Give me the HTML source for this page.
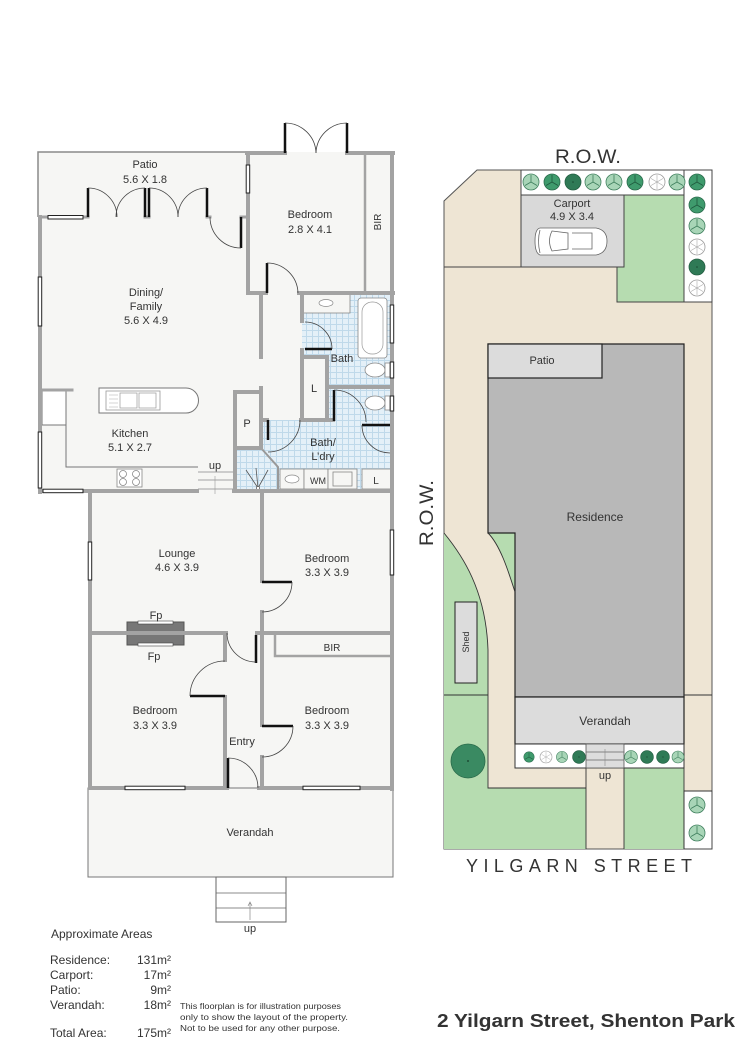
<!DOCTYPE html>
<html><head><meta charset="utf-8"><style>
html,body{margin:0;padding:0;background:#fff;}
svg{display:block;}
text{font-family:"Liberation Sans",sans-serif;fill:#333;}
</style></head><body>
<svg width="750" height="1059" viewBox="0 0 750 1059" xmlns="http://www.w3.org/2000/svg">
<defs>
<pattern id="tile" width="6" height="6" patternUnits="userSpaceOnUse">
<rect width="6" height="6" fill="#e4f0f8"/>
<path d="M0,0.5H6M0.5,0V6" stroke="#bfd9ea" stroke-width="1"/>
</pattern>
<g id="tL"><circle r="8" fill="#a8d5b7" stroke="#3f7f5d" stroke-width="0.8"/><path d="M0,0V-7M0,0L6,3.5M0,0L-6,3.5" stroke="#3f7f5d" stroke-width="0.8"/></g>
<g id="tM"><circle r="8" fill="#3f9b6d" stroke="#2a6b4c" stroke-width="0.8"/><path d="M0,0V-7M0,0L6,3.5M0,0L-6,3.5" stroke="#1f5a3e" stroke-width="0.8"/></g>
<g id="tD"><circle r="8" fill="#2f7a56" stroke="#245f43" stroke-width="0.8"/><circle r="0.8" fill="#1a4a33"/></g>
<g id="tW"><circle r="8" fill="#fff" stroke="#9a9a9a" stroke-width="0.8"/><path d="M0,0V-7M0,0L6,3.5M0,0L-6,3.5M0,0L6,-3.5M0,0L-6,-3.5M0,0V7" stroke="#aaa" stroke-width="0.6"/></g>
</defs>
<rect width="750" height="1059" fill="#fff"/>

<!-- ================= FLOOR PLAN ================= -->
<g fill="#f6f6f4">
<rect x="38" y="152" width="210" height="341"/>
<rect x="247" y="152" width="146" height="341"/>
<rect x="88" y="491" width="305" height="386"/>
</g>
<!-- tiles -->
<g fill="url(#tile)">
<rect x="302" y="293" width="91" height="64"/>
<rect x="327" y="357" width="66" height="63"/>
<rect x="262" y="420" width="131" height="69"/>
<rect x="235" y="448" width="27" height="41"/>
</g>
<!-- patio outline -->
<polyline points="38,217 38,152 247,152" fill="none" stroke="#8a8a8a" stroke-width="1.5"/>

<!-- kitchen fixtures -->
<rect x="42" y="390" width="24" height="35" fill="#fff" stroke="#777" stroke-width="1"/>
<polyline points="66,390 66,467 198,467" fill="none" stroke="#777" stroke-width="1"/>
<rect x="117" y="469" width="25" height="18" fill="#fff" stroke="#888" stroke-width="0.8"/>
<g fill="none" stroke="#888" stroke-width="0.8"><circle cx="123" cy="474" r="3.5"/><circle cx="136" cy="474" r="3.5"/><circle cx="123" cy="482" r="3.5"/><circle cx="136" cy="482" r="3.5"/></g>
<path d="M99,388 H186 A12.5,12.5 0 0 1 186,413 H99 Z" fill="#fff" stroke="#777" stroke-width="1"/>
<rect x="106" y="391" width="54" height="19" fill="#fff" stroke="#999" stroke-width="0.8"/>
<rect x="120" y="393" width="17" height="15" fill="#fff" stroke="#999" stroke-width="0.7"/>
<rect x="139" y="393" width="17" height="15" fill="#fff" stroke="#999" stroke-width="0.7"/>
<path d="M109,395H118M109,399H118M109,403H118M109,407H118" stroke="#aaa" stroke-width="0.6"/>
<!-- steps up kitchen -->
<path d="M198,472H233M198,480H233M198,489H233" stroke="#888" stroke-width="0.8"/>
<path d="M215,494V476" stroke="#999" stroke-width="0.6"/>

<!-- bath fixtures -->
<rect x="302" y="293" width="48" height="20" fill="#f6f6f4" stroke="#888" stroke-width="0.8"/>
<ellipse cx="326" cy="303" rx="7" ry="3.5" fill="#fff" stroke="#888" stroke-width="0.7"/>
<rect x="358" y="298" width="29" height="60" rx="3" fill="#fff" stroke="#888" stroke-width="0.8"/>
<rect x="362" y="302" width="21" height="52" rx="10" fill="#fff" stroke="#999" stroke-width="0.7"/>
<g fill="#fff" stroke="#888" stroke-width="0.8">
<ellipse cx="375" cy="370" rx="10" ry="7"/><rect x="385" y="363" width="5" height="14"/>
<ellipse cx="375" cy="403" rx="10" ry="7"/><rect x="385" y="396" width="5" height="14"/>
</g>
<!-- laundry fixtures -->
<g fill="#f6f6f4" stroke="#888" stroke-width="0.8">
<rect x="280" y="469" width="24" height="20"/>
<rect x="304" y="469" width="24" height="20"/>
<rect x="328" y="469" width="29" height="20"/>
<rect x="333" y="472" width="19" height="14"/>
<rect x="362" y="469" width="31" height="20"/>
</g>
<ellipse cx="292" cy="479" rx="7" ry="4" fill="#fff" stroke="#888" stroke-width="0.7"/>
<!-- shower -->
<polyline points="261,448 278,467 278,489" fill="none" stroke="#999" stroke-width="2"/>
<path d="M258,488L246,470M258,488L256,468M258,488L268,470" stroke="#555" stroke-width="0.8"/>
<circle cx="258" cy="488" r="1.6" fill="#fff" stroke="#555" stroke-width="0.7"/>

<!-- fireplace -->
<rect x="127" y="622" width="57" height="23" fill="#777" stroke="#555" stroke-width="1"/>
<rect x="138" y="621" width="35" height="3" fill="#fff" stroke="#444" stroke-width="0.6"/>
<rect x="138" y="643" width="35" height="3" fill="#fff" stroke="#444" stroke-width="0.6"/>

<!-- verandah & steps -->
<rect x="88" y="788" width="305" height="89" fill="#f6f6f4" stroke="#777" stroke-width="1"/>
<rect x="216" y="877" width="70" height="45" fill="#fff" stroke="#666" stroke-width="1"/>
<path d="M216,893H286M216,908H286" stroke="#666" stroke-width="0.8"/>
<path d="M250,920V903M248,906L250,902L252,906" fill="none" stroke="#888" stroke-width="0.7"/>

<!-- walls -->
<g stroke="#a3a3a3" stroke-width="4" stroke-linecap="square" fill="none">
<path d="M247,153H285M347,153H393"/>
<path d="M392,153V789"/>
<path d="M248,153V293"/>
<path d="M248,293H266M299,293H393"/>
<path d="M40,217V492"/>
<path d="M261,293V357M261,388V448"/>
<path d="M235,392H261M235,392V489M235,448H261"/>
<path d="M302,293V321M302,350V419M302,357H327M327,357V419M327,387H392"/>
<path d="M262,420H267M301,420H333"/>
<path d="M40,491H197M234,491H392"/>
<path d="M90,491V788"/>
<path d="M262,491V581M262,612V633"/>
<path d="M90,633H226M257,633H392"/>
<path d="M225,633V660M225,697V788"/>
<path d="M262,633V725M262,757V788"/>
<path d="M90,788H227M259,788H392"/>
</g>
<g stroke="#a3a3a3" stroke-width="3" stroke-linecap="square" fill="none">
<path d="M40,217H48M83,217H88M145,217H149M207,217H210M241,217H248"/>
<path d="M40,390H72"/>
</g>
<g stroke="#a3a3a3" stroke-width="2.5" fill="none">
<path d="M365,153V293"/>
<path d="M275,633V656H393"/>
</g>

<!-- windows -->
<g fill="#fff" stroke="#222" stroke-width="1">
<rect x="48" y="215.5" width="35" height="3.5"/>
<rect x="246.2" y="165" width="3.5" height="28"/>
<rect x="38.2" y="277" width="3.5" height="49"/>
<rect x="38.2" y="432" width="3.5" height="56"/>
<rect x="43" y="489.2" width="40" height="3.5"/>
<rect x="390.2" y="305" width="3.5" height="38"/>
<rect x="390.2" y="362" width="3.5" height="16"/>
<rect x="390.2" y="396" width="3.5" height="15"/>
<rect x="88.2" y="542" width="3.5" height="38"/>
<rect x="390.2" y="530" width="3.5" height="45"/>
<rect x="125" y="786.2" width="60" height="3.5"/>
<rect x="303" y="786.2" width="57" height="3.5"/>
</g>

<!-- doors leaves -->
<g stroke="#111" stroke-width="2.5" fill="none">
<path d="M88,217V188M145,217V188M149,217V188M207,217V188"/>
<path d="M241,217V248"/>
<path d="M285,153V123M347,153V123"/>
<path d="M267,293V263"/>
<path d="M305,349H332"/>
<path d="M268,420V440"/>
<path d="M334,421V390"/>
<path d="M362,425H390"/>
<path d="M262,582H292"/>
<path d="M256,635V663"/>
<path d="M190,696H225"/>
<path d="M262,726H293"/>
<path d="M228,788V758"/>
</g>
<!-- door arcs -->
<g stroke="#444" stroke-width="0.8" fill="none">
<path d="M88,188A29,29 0 0 1 117,217"/>
<path d="M145,188A29,29 0 0 0 116,217"/>
<path d="M149,188A29,29 0 0 1 178,217"/>
<path d="M207,188A29,29 0 0 0 178,217"/>
<path d="M210,217A31,31 0 0 0 241,248"/>
<path d="M285,123A31,31 0 0 1 316,153"/>
<path d="M347,123A31,31 0 0 0 316,153"/>
<path d="M267,263A31,31 0 0 1 298,293"/>
<path d="M305,322A27,27 0 0 1 332,349"/>
<path d="M300,420A32,32 0 0 1 268,452"/>
<path d="M334,390A32,32 0 0 1 366,422"/>
<path d="M362,425A28,28 0 0 0 390,453"/>
<path d="M292,582A30,30 0 0 1 262,612"/>
<path d="M227,633A29,29 0 0 0 256,662"/>
<path d="M190,696A35,35 0 0 1 225,661"/>
<path d="M293,726A31,31 0 0 1 262,757"/>
<path d="M228,758A30,30 0 0 1 258,788"/>
</g>

<!-- floor plan labels -->
<g font-size="11" text-anchor="middle">
<text x="145" y="168">Patio</text>
<text x="145" y="183">5.6 X 1.8</text>
<text x="310" y="218">Bedroom</text>
<text x="310" y="233">2.8 X 4.1</text>
<text x="381" y="222" transform="rotate(-90 381 222)" font-size="10">BIR</text>
<text x="146" y="296">Dining/</text>
<text x="146" y="310">Family</text>
<text x="146" y="324">5.6 X 4.9</text>
<text x="130" y="437">Kitchen</text>
<text x="130" y="451">5.1 X 2.7</text>
<text x="247" y="427">P</text>
<text x="314" y="392">L</text>
<text x="342" y="362">Bath</text>
<text x="323" y="446">Bath/</text>
<text x="323" y="460">L’dry</text>
<text x="215" y="469">up</text>
<text x="318" y="484" font-size="9">WM</text>
<text x="376" y="484" font-size="10">L</text>
<text x="177" y="557">Lounge</text>
<text x="177" y="571">4.6 X 3.9</text>
<text x="327" y="562">Bedroom</text>
<text x="327" y="576">3.3 X 3.9</text>
<text x="156" y="619">Fp</text>
<text x="154" y="660">Fp</text>
<text x="332" y="651" font-size="10">BIR</text>
<text x="155" y="714">Bedroom</text>
<text x="155" y="729">3.3 X 3.9</text>
<text x="327" y="714">Bedroom</text>
<text x="327" y="729">3.3 X 3.9</text>
<text x="242" y="745">Entry</text>
<text x="250" y="836">Verandah</text>
<text x="250" y="932">up</text>
</g>

<!-- ================= SITE PLAN ================= -->
<polygon points="477,170 712,170 712,849 444,849 444,201" fill="#eee5d4" stroke="#555" stroke-width="1"/>
<!-- greens -->
<g fill="#b6dcb0" stroke="none">
<polygon points="624,195 684,195 684,302 617,302 617,267 624,267"/>
<path d="M444,533 C462,555 486,590 488,650 L488,849 L444,849 Z"/>
<path d="M488,533 L515,533 L515,592 C508,570 500,545 488,533 Z"/>
<rect x="488" y="788" width="98" height="61"/>
<rect x="624" y="768" width="60" height="81"/>
</g>
<!-- white strips -->
<g fill="#fff" stroke="#444" stroke-width="1">
<rect x="521" y="170" width="191" height="25"/>
<rect x="684" y="170" width="28" height="132"/>
<rect x="684" y="791" width="28" height="58"/>
</g>
<!-- carport -->
<rect x="521" y="195" width="103" height="72" fill="#d9d9d9" stroke="#444" stroke-width="1"/>
<polyline points="624,267 617,267 617,302 684,302" fill="none" stroke="#444" stroke-width="1"/>
<path d="M444,267H521" stroke="#444" stroke-width="1"/>
<!-- car -->
<g fill="#fff" stroke="#666" stroke-width="0.8">
<path d="M540,228 H596 Q607,230 607,241 Q607,253 596,255 H540 Q535,253 535,241 Q535,229 540,228 Z"/>
<path d="M552,231 L568,233 V249 L552,251 Q547,241 552,231 Z"/>
<path d="M572,233 H592 V249 H572"/>
<path d="M540,230 Q537,241 540,253"/>
</g>
<!-- residence -->
<polygon points="488,344 684,344 684,697 515,697 515,533 488,533" fill="#b8b8b8" stroke="#222" stroke-width="1.2"/>
<rect x="488" y="344" width="114" height="34" fill="#dcdcdc" stroke="#222" stroke-width="1.2"/>
<!-- path curves -->
<g fill="none" stroke="#333" stroke-width="0.9">
<path d="M444,533 C462,555 486,590 488,650 L488,695"/>
<path d="M488,533 C500,545 508,570 515,592"/>
<path d="M444,695H488M684,695H712"/>
<path d="M488,695V788H586M586,768V849M624,768V849M684,697V849M684,791H712"/>
</g>
<!-- shed -->
<rect x="455" y="602" width="22" height="81" fill="#dcdcdc" stroke="#222" stroke-width="1"/>
<!-- verandah -->
<rect x="515" y="697" width="169" height="47" fill="#dcdcdc" stroke="#222" stroke-width="1.2"/>
<rect x="515" y="744" width="169" height="24" fill="#fff" stroke="#333" stroke-width="1"/>
<rect x="586" y="744" width="38" height="24" fill="#ddd" stroke="#555" stroke-width="0.8"/>
<path d="M586,752H624M586,760H624" stroke="#666" stroke-width="0.7"/>
<path d="M605,766V749" stroke="#888" stroke-width="0.6"/>
<!-- big tree -->
<circle cx="468" cy="761" r="17" fill="#3a8a62" stroke="#2b6b4b" stroke-width="0.8"/>
<circle cx="468" cy="761" r="1" fill="#1e4d36"/>
<!-- trees top row -->
<use href="#tL" x="531" y="182"/>
<use href="#tM" x="552" y="182"/>
<use href="#tD" x="573" y="182"/>
<use href="#tL" x="593" y="182"/>
<use href="#tL" x="614" y="182"/>
<use href="#tM" x="635" y="182"/>
<use href="#tW" x="657" y="182"/>
<use href="#tL" x="677" y="182"/>
<use href="#tM" x="697" y="182"/>
<use href="#tM" x="697" y="205"/>
<use href="#tL" x="697" y="226"/>
<use href="#tW" x="697" y="247"/>
<use href="#tD" x="697" y="267"/>
<use href="#tW" x="697" y="288"/>
<!-- trees verandah strip -->
<g transform="translate(529,757) scale(0.65)"><use href="#tM"/></g>
<g transform="translate(546,757) scale(0.75)"><use href="#tW"/></g>
<g transform="translate(562,757) scale(0.7)"><use href="#tL"/></g>
<g transform="translate(579,757) scale(0.8)"><use href="#tD"/></g>
<g transform="translate(631,757) scale(0.8)"><use href="#tL"/></g>
<g transform="translate(647,757) scale(0.8)"><use href="#tD"/></g>
<g transform="translate(663,757) scale(0.8)"><use href="#tD"/></g>
<g transform="translate(678,757) scale(0.75)"><use href="#tL"/></g>
<use href="#tL" x="697" y="805"/>
<use href="#tL" x="697" y="833"/>

<!-- site labels -->
<g text-anchor="middle">
<text x="588" y="163" font-size="19" textLength="66" lengthAdjust="spacingAndGlyphs" fill="#222">R.O.W.</text>
<text x="433" y="513" font-size="19" transform="rotate(-90 433 513)" textLength="66" lengthAdjust="spacingAndGlyphs" fill="#222">R.O.W.</text>
<text x="572" y="207" font-size="11">Carport</text>
<text x="572" y="220" font-size="11">4.9 X 3.4</text>
<text x="542" y="364" font-size="11">Patio</text>
<text x="595" y="521" font-size="12">Residence</text>
<text x="469" y="642" font-size="9" transform="rotate(-90 469 642)">Shed</text>
<text x="605" y="725" font-size="12">Verandah</text>
<text x="605" y="779" font-size="11">up</text>
</g>
<text x="466" y="872" font-size="18" textLength="226" lengthAdjust="spacing" fill="#222">YILGARN STREET</text>

<!-- ================= BOTTOM TEXT ================= -->
<g font-size="12">
<text x="51" y="938">Approximate Areas</text>
<text x="50" y="964">Residence:</text>
<text x="50" y="979">Carport:</text>
<text x="50" y="994">Patio:</text>
<text x="50" y="1009">Verandah:</text>
<text x="50" y="1037">Total Area:</text>
</g>
<g font-size="12" text-anchor="end">
<text x="171" y="964">131m²</text>
<text x="171" y="979">17m²</text>
<text x="171" y="994">9m²</text>
<text x="171" y="1009">18m²</text>
<text x="171" y="1037">175m²</text>
</g>
<g font-size="8">
<text x="180" y="1009" textLength="161" lengthAdjust="spacingAndGlyphs">This floorplan is for illustration purposes</text>
<text x="180" y="1020" textLength="168" lengthAdjust="spacingAndGlyphs">only to show the layout of the property.</text>
<text x="180" y="1031" textLength="160" lengthAdjust="spacingAndGlyphs">Not to be used for any other purpose.</text>
</g>
<text x="437" y="1027" font-size="18" font-weight="bold" fill="#111" textLength="298" lengthAdjust="spacingAndGlyphs">2 Yilgarn Street, Shenton Park</text>
</svg>
</body></html>
